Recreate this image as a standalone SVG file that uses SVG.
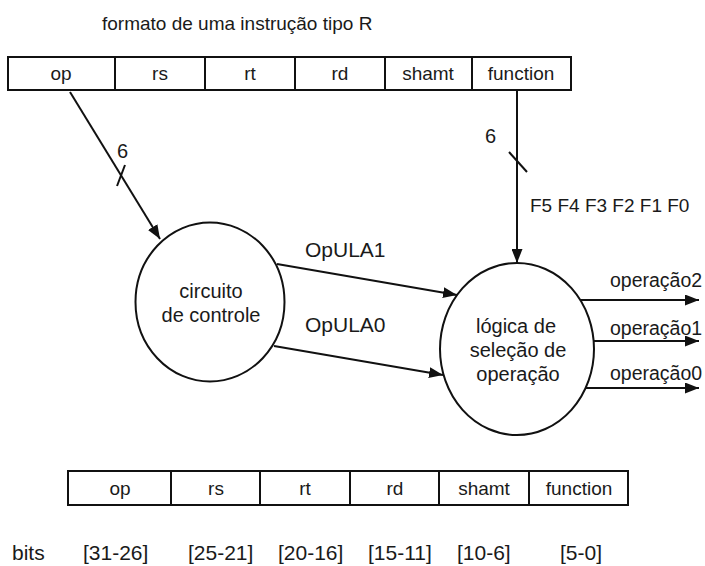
<svg xmlns="http://www.w3.org/2000/svg" width="705" height="566" viewBox="0 0 705 566">
  <style>
    text { font-family: "Liberation Sans", Arial, sans-serif; font-size: 19px; fill: #1a1a1a; }
    .c { text-anchor: middle; }
    .l20 { font-size: 20px; }
    .l21 { font-size: 21px; }
    .op { font-size: 19.5px; }
    .box { fill: none; stroke: #111; stroke-width: 2; }
    .node { fill: #fff; stroke: #111; stroke-width: 2; }
    .wire { fill: none; stroke: #111; stroke-width: 2; }
  </style>
  <defs>
    <marker id="arrow" markerUnits="userSpaceOnUse" markerWidth="15" markerHeight="11" refX="14" refY="5.5" orient="auto">
      <path d="M0,0 L14,5.5 L0,11 z" fill="#111"/>
    </marker>
  </defs>
  <rect width="705" height="566" fill="#fff"/>

  <text id="title" x="102" y="30">formato de uma instrução tipo R</text>

  <g id="format-top">
    <rect class="box" x="8" y="57" width="563" height="33"/>
    <line class="box" x1="115" y1="57" x2="115" y2="90"/>
    <line class="box" x1="205" y1="57" x2="205" y2="90"/>
    <line class="box" x1="295" y1="57" x2="295" y2="90"/>
    <line class="box" x1="385" y1="57" x2="385" y2="90"/>
    <line class="box" x1="472" y1="57" x2="472" y2="90"/>
    <text class="c" x="61" y="80">op</text>
    <text class="c" x="160" y="80">rs</text>
    <text class="c" x="250" y="80">rt</text>
    <text class="c" x="340" y="80">rd</text>
    <text class="c" x="428" y="80">shamt</text>
    <text class="c" x="521" y="80">function</text>
  </g>

  <g id="circuito-de-controle">
    <ellipse class="node" cx="210" cy="302" rx="74.5" ry="79.5"/>
    <text class="c l20" x="211" y="298">circuito</text>
    <text class="c l20" x="211" y="322">de controle</text>
  </g>

  <g id="logica-de-selecao">
    <ellipse class="node" cx="517" cy="349" rx="77" ry="86"/>
    <text class="c l20" x="516" y="333">lógica de</text>
    <text class="c l20" x="518" y="357">seleção de</text>
    <text class="c l20" x="518" y="381">operação</text>
  </g>

  <g id="connectors">
    <line class="wire" x1="70" y1="92" x2="160" y2="239" marker-end="url(#arrow)"/>
    <line class="wire" x1="117" y1="186" x2="125" y2="165"/>
    <text class="l20" x="117" y="158">6</text>

    <line class="wire" x1="517" y1="91" x2="517" y2="263" marker-end="url(#arrow)"/>
    <line class="wire" x1="509" y1="152" x2="527" y2="172"/>
    <text class="l20" x="485" y="143">6</text>
    <text x="530" y="212">F5 F4 F3 F2 F1 F0</text>

    <line class="wire" x1="277" y1="264" x2="457" y2="295" marker-end="url(#arrow)"/>
    <text class="l21" x="305" y="257">OpULA1</text>
    <line class="wire" x1="274" y1="346" x2="443" y2="375" marker-end="url(#arrow)"/>
    <text class="l21" x="305" y="332">OpULA0</text>

    <line class="wire" x1="580" y1="300" x2="699" y2="300" marker-end="url(#arrow)"/>
    <text class="op" x="610" y="287">operação2</text>
    <line class="wire" x1="593" y1="341" x2="699" y2="341" marker-end="url(#arrow)"/>
    <text class="op" x="610" y="335">operação1</text>
    <line class="wire" x1="586" y1="388" x2="699" y2="388" marker-end="url(#arrow)"/>
    <text class="op" x="610" y="380">operação0</text>
  </g>

  <g id="format-bottom">
    <rect class="box" x="68" y="471" width="560" height="34"/>
    <line class="box" x1="171" y1="471" x2="171" y2="505"/>
    <line class="box" x1="260" y1="471" x2="260" y2="505"/>
    <line class="box" x1="350" y1="471" x2="350" y2="505"/>
    <line class="box" x1="439" y1="471" x2="439" y2="505"/>
    <line class="box" x1="529" y1="471" x2="529" y2="505"/>
    <text class="c" x="120" y="495">op</text>
    <text class="c" x="216" y="495">rs</text>
    <text class="c" x="305" y="495">rt</text>
    <text class="c" x="395" y="495">rd</text>
    <text class="c" x="484" y="495">shamt</text>
    <text class="c" x="579" y="495">function</text>
  </g>

  <g id="bits">
    <text class="l21" x="12" y="560">bits</text>
    <text class="l21" x="83" y="560">[31-26]</text>
    <text class="l21" x="188" y="560">[25-21]</text>
    <text class="l21" x="278" y="560">[20-16]</text>
    <text class="l21" x="368" y="560">[15-11]</text>
    <text class="l21" x="457" y="560">[10-6]</text>
    <text class="l21" x="560" y="560">[5-0]</text>
  </g>
</svg>
